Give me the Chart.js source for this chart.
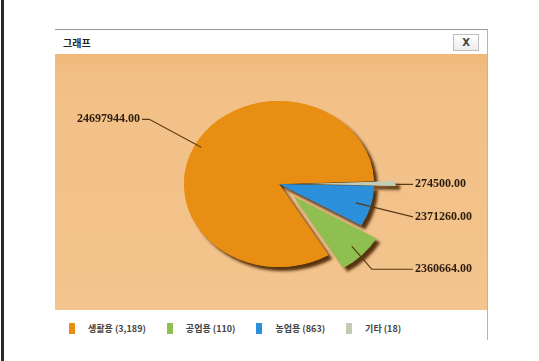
<!DOCTYPE html>
<html><head><meta charset="utf-8">
<script src="https://cdn.jsdelivr.net/npm/chart.js@4"></script>
<style>
html,body{margin:0;padding:0;background:#fff;width:539px;height:361px;overflow:hidden;font-family:"Noto Sans CJK KR",sans-serif;}
#leftline{position:absolute;left:1px;top:0;width:3px;height:361px;background:#2b2b2b;}
#dlg{position:absolute;left:55px;top:29px;width:432px;height:310px;border-top:1px solid #9a9a9a;border-right:1px solid #b5b5b5;background:#fff;}
#title{position:absolute;left:8px;top:5px;font-size:10px;font-weight:bold;color:#222;}
#close{position:absolute;left:398px;top:4px;width:24px;height:15px;border:1px solid #bdbdbd;background:linear-gradient(#fff,#ececec);font:bold 10px "DejaVu Sans";text-align:center;line-height:15px;color:#444;}
#body{position:absolute;left:0;top:24px;width:432px;height:256px;background:linear-gradient(#f0b97b,#f2c087 30px,#f3c48d);}
#legend{position:absolute;left:14px;top:292px;display:flex;align-items:center;}
.li{display:flex;align-items:center;margin-right:21px;}
.sw{width:6px;height:11px;margin-right:13px;}
.tx{font-size:9px;font-weight:bold;color:#444;white-space:nowrap;}
canvas{position:absolute;left:0;top:0;z-index:5;}
</style></head>
<body>
<div id="leftline"></div>
<div id="dlg">
  <div id="title">그래프</div>
  <div id="close">X</div>
  <div id="body"></div>
  <div id="legend"></div>
</div>
<canvas id="c" width="539" height="361"></canvas>
<script>
// ---- data (legend order) ----
const categories = ['생활용', '공업용', '농업용', '기타'];
const counts = ['3,189', '110', '863', '18'];
const values = [24697944, 2360664, 2371260, 274500];

// ---- styles ----
const colors = ['#E88E12', '#8EBF50', '#2B8FDA', '#C2CCB4'];
const explode = [0, 21, 0, 22];          // px pulled out, legend order
const anchorFrac = [0.93, 0.85, 0.84, 1.0];
const labelDy = [-28, 23, 14, 1];
const elbowDx = [-52, 20, 200, 0];
const SQUASH = 0.874;

// HTML legend
const lg = document.getElementById('legend');
categories.forEach((c, i) => {
  const d = document.createElement('div'); d.className = 'li';
  d.innerHTML = '<span class="sw" style="background:' + colors[i] + '"></span><span class="tx">' + c + ' (' + counts[i] + ')</span>';
  lg.appendChild(d);
});

// chart order: clockwise from 3 o'clock = reverse of legend order
const order = [3, 2, 1, 0];
const cVals = order.map(i => values[i]);
const cLabels = order.map(i => categories[i]);
const cColors = order.map(i => colors[i]);

function vec(el, e) {
  const mid = (el.startAngle + el.endAngle) / 2;
  return {x: Math.cos(mid) * e, y: Math.sin(mid) * e};
}

const piePlugin = {
  id: 'pieStyle',
  beforeDatasetDraw(chart, args) {
    const ctx = chart.ctx, meta = args.meta;
    const cx = meta.data[0].x, cy = meta.data[0].y;
    ctx.save();
    ctx.translate(cx, cy); ctx.scale(1, SQUASH); ctx.translate(-cx, -cy);
    const pass = (shadow) => {
      meta.data.forEach((el, k) => {
        const v = vec(el, explode[order[k]]);
        ctx.save();
        if (shadow) {
          ctx.shadowColor = 'rgba(70,34,0,0.9)';
          ctx.shadowOffsetX = 4; ctx.shadowOffsetY = 4; ctx.shadowBlur = 3;
        }
        ctx.translate(v.x, v.y);
        el.draw(ctx);
        ctx.restore();
      });
    };
    pass(true);
    pass(false);
    ctx.restore();
    return false;
  },
  afterDatasetsDraw(chart) {
    const ctx = chart.ctx, meta = chart.getDatasetMeta(0);
    meta.data.forEach((el, k) => {
      const i = order[k];
      const cx = el.x, cy = el.y, r = el.outerRadius;
      const mid = (el.startAngle + el.endAngle) / 2;
      const d = explode[i] + r * anchorFrac[i];
      const ax = cx + Math.cos(mid) * d;
      const ay = cy + Math.sin(mid) * d * SQUASH;
      const ly = ay + labelDy[i];
      const right = Math.cos(mid) > 0;
      const lineEnd = right ? cx + r + 39 : cx - r - 42;
      let ex = ax + elbowDx[i];
      if (right) ex = Math.min(ex, lineEnd); else ex = Math.max(ex, lineEnd);
      ctx.save();
      ctx.strokeStyle = '#5a3a16'; ctx.lineWidth = 1.1;
      ctx.beginPath(); ctx.moveTo(ax, ay); ctx.lineTo(ex, ly); ctx.lineTo(lineEnd, ly); ctx.stroke();
      ctx.fillStyle = '#2e1e0e';
      ctx.font = 'bold 12px "Liberation Serif"';
      ctx.textBaseline = 'middle';
      ctx.textAlign = right ? 'left' : 'right';
      ctx.fillText(values[i].toFixed(2), right ? lineEnd + 2 : lineEnd - 2, ly);
      ctx.restore();
    });
  }
};

new Chart(document.getElementById('c'), {
  type: 'pie',
  data: {labels: cLabels, datasets: [{data: cVals, backgroundColor: cColors, borderWidth: 0}]},
  options: {
    responsive: false, animation: false, devicePixelRatio: 1,
    rotation: 88, radius: 95,
    layout: {padding: {left: 19, right: 0, top: 7, bottom: 0}},
    plugins: {legend: {display: false}, tooltip: {enabled: false}}
  },
  plugins: [piePlugin]
});
</script>
</body></html>
